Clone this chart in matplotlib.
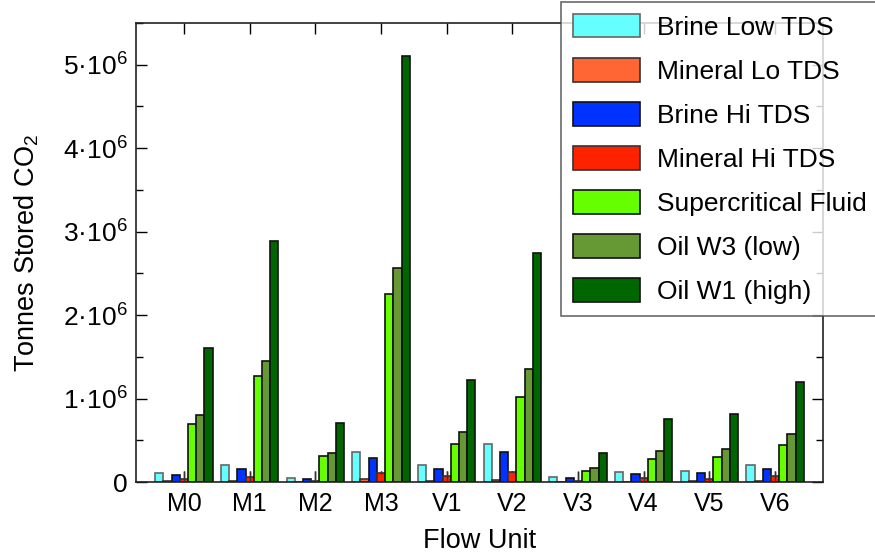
import matplotlib
matplotlib.use('Agg')
import matplotlib.pyplot as plt
from matplotlib.ticker import FuncFormatter, MultipleLocator
import numpy as np

plt.rcParams['font.family'] = ['Liberation Sans', 'DejaVu Sans']
plt.rcParams['mathtext.fontset'] = 'custom'
plt.rcParams['mathtext.rm'] = 'Liberation Sans'
plt.rcParams['mathtext.it'] = 'Liberation Sans:italic'

units = ['M0', 'M1', 'M2', 'M3', 'V1', 'V2', 'V3', 'V4', 'V5', 'V6']

# tonnes stored
brine_low = [0.11e6, 0.20e6, 0.045e6, 0.36e6, 0.205e6, 0.46e6, 0.057e6, 0.125e6, 0.134e6, 0.20e6]
mineral_lo = [0.015e6, 0.006e6, 0.005e6, 0.038e6, 0.014e6, 0.026e6, 0.003e6, 0.005e6, 0.006e6, 0.014e6]
brine_hi = [0.086e6, 0.157e6, 0.033e6, 0.284e6, 0.16e6, 0.364e6, 0.042e6, 0.098e6, 0.105e6, 0.157e6]
mineral_hi = [0.04e6, 0.054e6, 0.01e6, 0.11e6, 0.066e6, 0.125e6, 0.01e6, 0.042e6, 0.038e6, 0.066e6]
mineral_hi_err = [0.09e6, 0.076e6, 0.12e6, 0.02e6, 0.068e6, 0.005e6, 0.115e6, 0.088e6, 0.096e6, 0.068e6]
supercritical = [0.70e6, 1.27e6, 0.31e6, 2.25e6, 0.456e6, 1.02e6, 0.13e6, 0.277e6, 0.304e6, 0.444e6]
oil_w3 = [0.80e6, 1.45e6, 0.35e6, 2.57e6, 0.60e6, 1.35e6, 0.17e6, 0.367e6, 0.40e6, 0.58e6]
oil_w1 = [1.60e6, 2.89e6, 0.71e6, 5.10e6, 1.22e6, 2.74e6, 0.35e6, 0.76e6, 0.814e6, 1.195e6]

series = [
    ("Brine Low TDS", brine_low, '#66ffff', '#666666'),
    ("Mineral Lo TDS", mineral_lo, '#ff6633', '#333333'),
    ("Brine Hi TDS", brine_hi, '#0033ff', '#111111'),
    ("Mineral Hi TDS", mineral_hi, '#ff2200', '#333333'),
    ("Supercritical Fluid", supercritical, '#66ff00', '#111111'),
    ("Oil W3 (low)", oil_w3, '#669933', '#111111'),
    ("Oil W1 (high)", oil_w1, '#006600', '#111111'),
]

fig = plt.figure(figsize=(8.75, 5.56), dpi=100)
fig.patch.set_facecolor('white')
ax = fig.add_axes([136/875, 1 - 482/556, (823 - 136)/875, (482 - 23)/556])

x = np.arange(len(units))
w = 0.125
for i, (name, vals, fc, ec) in enumerate(series):
    pos = x + (i - 3) * w
    ax.bar(pos, vals, width=w, color=fc, edgecolor=ec, linewidth=1.2, label=name, zorder=2)
    if name == "Mineral Hi TDS":
        ax.errorbar(pos, vals, yerr=mineral_hi_err, fmt='none', ecolor='#333333',
                    elinewidth=1.0, capsize=0, zorder=3)

ax.set_xlim(-0.73, 9.73)
ax.set_ylim(0, 5.5e6)
ax.set_xticks(x)
ax.set_xticklabels(units)
ax.yaxis.set_major_locator(MultipleLocator(1e6))
ax.yaxis.set_minor_locator(MultipleLocator(0.5e6))


def fmt(v, pos):
    n = int(round(v / 1e6))
    if n == 0:
        return "0"
    return "%d·10$^{6}$" % n


ax.yaxis.set_major_formatter(FuncFormatter(fmt))
ax.tick_params(axis='both', which='both', direction='in', top=True, right=True)
ax.tick_params(axis='x', labelsize=18)
ax.tick_params(axis='y', labelsize=19)
ax.tick_params(axis='both', which='major', length=8, width=1)
ax.tick_params(axis='y', which='minor', length=5, width=1)
ax.tick_params(axis='x', which='major', pad=7)
ax.tick_params(axis='y', which='major', pad=6)
for s in ax.spines.values():
    s.set_linewidth(1.2)
    s.set_color('#222222')

ax.set_xlabel("Flow Unit", fontsize=19.5, labelpad=9)
ax.set_ylabel("Tonnes Stored CO$_2$", fontsize=19.5, labelpad=16)

leg = ax.legend(loc='upper left', bbox_to_anchor=(561/875, 1 - 2/556), bbox_transform=fig.transFigure,
                fontsize=19, frameon=True, fancybox=False, edgecolor='#444444',
                handlelength=2.55, handleheight=1.0, handletextpad=0.65, labelspacing=0.69,
                borderpad=0.45, borderaxespad=0)
leg.get_frame().set_linewidth(1.2)
leg.set_zorder(5)

plt.savefig('out.png', dpi=100, facecolor='white')
plt.close()
print("Done!")
